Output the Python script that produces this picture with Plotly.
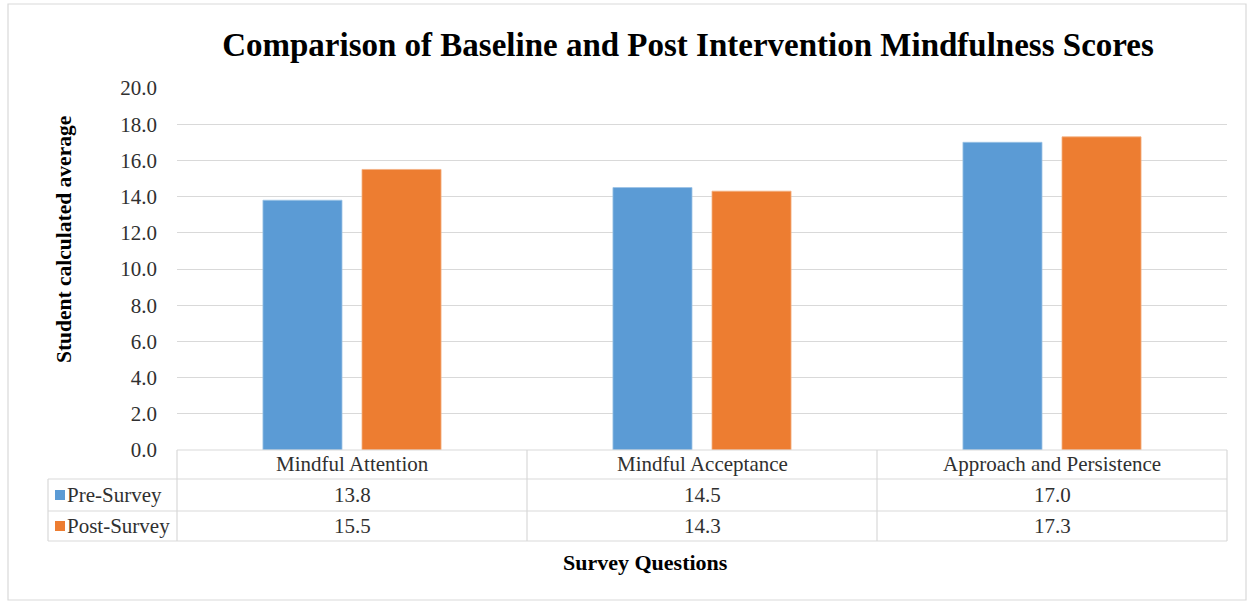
import plotly.graph_objects as go

# Survey data
categories = ["Mindful Attention", "Mindful Acceptance", "Approach and Persistence"]
pre_survey = [13.8, 14.5, 17.0]
post_survey = [15.5, 14.3, 17.3]
series_names = ["Pre-Survey", "Post-Survey"]
y_ticks = [0, 2, 4, 6, 8, 10, 12, 14, 16, 18, 20]

BLUE = "#5B9BD5"
ORANGE = "#ED7D31"
GRID = "#D9D9D9"
TXT = "#303030"
SERIF = "Liberation Serif"

W, H = 1249, 602
L, R, T, B = 177, 1227, 88, 450  # plot area in pixels


def px(x):
    return (x - L) / (R - L)


def py(y):
    return (B - y) / (B - T)


fig = go.Figure()
fig.add_trace(go.Bar(x=categories, y=pre_survey, name=series_names[0],
                     marker=dict(color=BLUE, line=dict(color="#9CC3E6", width=0.8))))
fig.add_trace(go.Bar(x=categories, y=post_survey, name=series_names[1],
                     marker=dict(color=ORANGE, line=dict(color="#F4B183", width=0.8))))

shapes = []
# outer chart border
shapes.append(dict(type="rect", xref="paper", yref="paper",
                   x0=px(8), x1=px(1246), y0=py(600), y1=py(4),
                   line=dict(color=GRID, width=1.2), fillcolor="rgba(0,0,0,0)", layer="below"))

# data table grid
row_y = [450, 479, 511, 541]
col_x = [L + i * (R - L) / 3 for i in range(4)]
lc = dict(color=GRID, width=1.2)
shapes.append(dict(type="line", xref="paper", yref="paper", x0=px(L), x1=px(R), y0=py(450), y1=py(450), line=lc))
for yy in row_y[1:]:
    shapes.append(dict(type="line", xref="paper", yref="paper", x0=px(48), x1=px(R), y0=py(yy), y1=py(yy), line=lc))
for xx in col_x:
    shapes.append(dict(type="line", xref="paper", yref="paper", x0=px(xx), x1=px(xx), y0=py(450), y1=py(541), line=lc))
shapes.append(dict(type="line", xref="paper", yref="paper", x0=px(48), x1=px(48), y0=py(479), y1=py(541), line=lc))

annotations = []
# category labels in the header row
for c in categories:
    annotations.append(dict(x=c, xref="x", y=py(464), yref="paper", text=c, showarrow=False,
                            font=dict(family=SERIF, size=21, color=TXT), xanchor="center", yanchor="middle"))
# values and legend keys in table rows
for r, (name, vals, col) in enumerate([(series_names[0], pre_survey, BLUE),
                                       (series_names[1], post_survey, ORANGE)]):
    yc = (row_y[r + 1] + row_y[r + 2]) / 2
    for c, v in zip(categories, vals):
        annotations.append(dict(x=c, xref="x", y=py(yc), yref="paper", text=f"{v:.1f}", showarrow=False,
                                font=dict(family=SERIF, size=21, color=TXT), xanchor="center", yanchor="middle"))
    shapes.append(dict(type="rect", xref="paper", yref="paper", x0=px(55), x1=px(65),
                       y0=py(yc + 5), y1=py(yc - 5), fillcolor=col, line=dict(width=0)))
    annotations.append(dict(x=px(65), xref="paper", y=py(yc), yref="paper", text=name, showarrow=False,
                            font=dict(family=SERIF, size=21, color=TXT), xanchor="left", yanchor="middle"))

# axis titles
annotations.append(dict(x=px(64), xref="paper", y=py(240), yref="paper", text="<b>Student calculated average</b>",
                        showarrow=False, textangle=-90, font=dict(family=SERIF, size=21.5, color="#000"),
                        xanchor="center", yanchor="middle"))
annotations.append(dict(x=px(645), xref="paper", y=py(562), yref="paper", text="<b>Survey Questions</b>",
                        showarrow=False, font=dict(family=SERIF, size=22, color="#000"),
                        xanchor="center", yanchor="middle"))

fig.update_layout(
    width=W, height=H,
    margin=dict(l=L, r=W - R, t=T, b=H - B, pad=0),
    paper_bgcolor="white", plot_bgcolor="white",
    title=dict(text="<b>Comparison of Baseline and Post Intervention Mindfulness Scores</b>",
               font=dict(family=SERIF, size=33, color="#000"),
               x=688 / W, xref="container", xanchor="center",
               y=1 - 44 / H, yref="container", yanchor="middle"),
    barmode="group", bargap=0.434, bargroupgap=0.202,
    showlegend=False,
    shapes=shapes, annotations=annotations,
    xaxis=dict(showticklabels=False, showgrid=False, zeroline=False, showline=False, ticks=""),
    yaxis=dict(range=[0, 20], tickvals=y_ticks, ticktext=[f"{t:.1f}" for t in y_ticks],
               showgrid=True, gridcolor=GRID, gridwidth=1.2, zeroline=False, showline=False,
               ticks="", ticklabelstandoff=19,
               tickfont=dict(family=SERIF, size=21, color=TXT)),
)

fig.write_html("out.html")
